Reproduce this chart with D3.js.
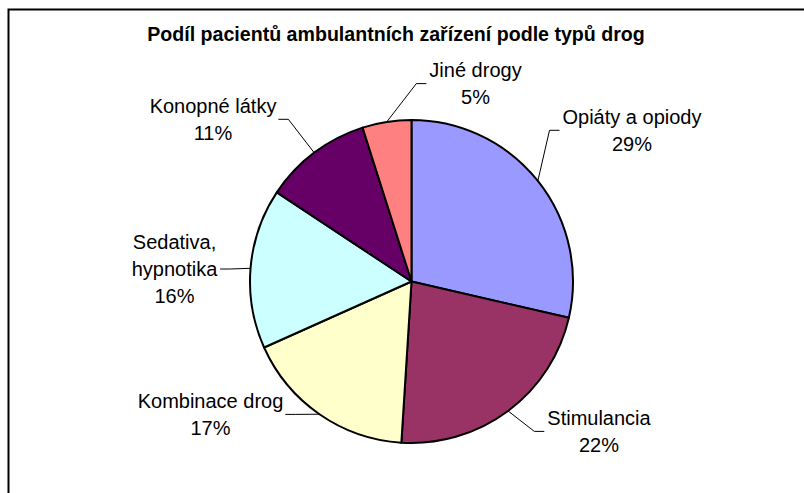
<!DOCTYPE html>
<html>
<head>
<meta charset="utf-8">
<script src="https://cdn.jsdelivr.net/npm/d3@7"></script>
<style>
  html, body { margin: 0; padding: 0; background: #fff; }
  svg { display: block; }
  text { font-family: "Liberation Sans", Arial, sans-serif; fill: #000; }
</style>
</head>
<body>
<svg id="chart" width="804" height="493"></svg>
<script>
// ---- data ----
const title = "Podíl pacientů ambulantních zařízení podle typů drog";
const categories = ["Opiáty a opiody", "Stimulancia", "Kombinace drog", "Sedativa, hypnotika", "Konopné látky", "Jiné drogy"];
const labelLines = [["Opiáty a opiody"], ["Stimulancia"], ["Kombinace drog"], ["Sedativa,", "hypnotika"], ["Konopné látky"], ["Jiné drogy"]];
const values = [28.6, 22.4, 17.3, 16.0, 10.8, 4.9];
const colors = ["#9999FF", "#993366", "#FFFFCC", "#CCFFFF", "#660066", "#FF8080"];
// label block centres, offsets from pie centre (as dragged in the original)
const labelOffsets = [[220.5, -151.2], [187.5, 149.9], [-201, 132.9], [-237, -12.5], [-198.5, -162.2], [64, -197.9]];

// ---- layout ----
const svg = d3.select("#chart");
const cx = 411.5, cy = 281.5, R = 161.5;
const fontSize = 20, lineH = 26.7;

// frame
svg.append("rect").attr("x", 8.5).attr("y", 9.5).attr("width", 900).attr("height", 600)
  .attr("fill", "none").attr("stroke", "#000").attr("stroke-width", 2);

// title
svg.append("text").attr("x", 396).attr("y", 40.7).attr("text-anchor", "middle")
  .style("font-size", "19.6px").style("font-weight", "bold").text(title);

const total = d3.sum(values);
const pie = d3.pie().sort(null).value(d => d)(values);
const arc = d3.arc().innerRadius(0).outerRadius(R);

const g = svg.append("g").attr("transform", `translate(${cx},${cy})`);
g.selectAll("path.slice").data(pie).join("path")
  .attr("class", "slice")
  .attr("d", arc)
  .attr("fill", (d, i) => colors[i])
  .attr("stroke", "#000").attr("stroke-width", 2).attr("stroke-linejoin", "round");

// labels + leader lines
pie.forEach((d, i) => {
  const lines = labelLines[i].concat([Math.round(values[i] / total * 100) + "%"]);
  const [ox, oy] = labelOffsets[i];
  const n = lines.length;
  const t = g.append("text").attr("text-anchor", "middle").style("font-size", fontSize + "px");
  lines.forEach((s, k) => {
    t.append("tspan").attr("x", ox).attr("y", oy + (k - (n - 1) / 2) * lineH + 7).text(s);
  });
  const bb = t.node().getBBox();
  const mid = (d.startAngle + d.endAngle) / 2;
  const ex = Math.sin(mid) * R, ey = -Math.cos(mid) * R;
  const right = ox > ex; // label to the right of the edge point
  const endX = right ? bb.x - 3 : bb.x + bb.width + 2;
  const elbowX = right ? endX - 10 : endX + 10;
  g.append("path")
    .attr("d", d3.line()([[ex, ey], [elbowX, oy], [endX, oy]]))
    .attr("fill", "none").attr("stroke", "#000").attr("stroke-width", 1);
});
</script>
</body>
</html>
